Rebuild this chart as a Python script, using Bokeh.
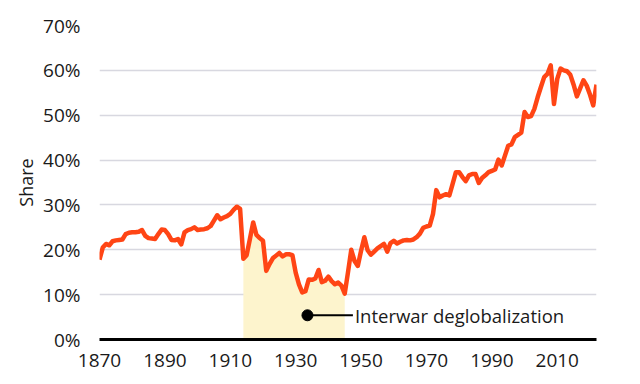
from bokeh.plotting import figure
from bokeh.models import Range1d, FixedTicker
from bokeh.embed import file_html
from bokeh.resources import INLINE
from bokeh.core.properties import value

# ---- data (percent share, annual, starting 1870) ----
share = [
    17.8, 20.5, 21.3, 21.0, 21.9, 22.1, 22.2, 22.3, 23.5, 23.8,   # 1870s
    23.9, 23.9, 24.0, 24.4, 23.1, 22.6, 22.5, 22.4, 23.5, 24.5,   # 1880s
    24.4, 23.5, 22.2, 22.1, 22.4, 21.2, 23.9, 24.4, 24.6, 25.0,   # 1890s
    24.4, 24.5, 24.6, 24.8, 25.3, 26.5, 27.7, 26.8, 27.2, 27.5,   # 1900s
    28.0, 28.9, 29.6, 29.1, 18.0, 18.8, 22.4, 26.1, 23.3, 22.6,   # 1910s
    22.0, 15.3, 16.8, 18.1, 18.7, 19.3, 18.5, 19.0, 19.0, 18.8,   # 1920s
    14.9, 12.3, 10.5, 10.8, 13.4, 13.3, 13.6, 15.5, 12.8, 13.1,   # 1930s
    14.0, 13.0, 12.3, 12.7, 12.0, 10.2, 15.0, 20.0, 17.5, 16.4,   # 1940s
    19.8, 22.8, 19.9, 18.9, 19.6, 20.3, 20.8, 21.3, 19.6, 21.5,   # 1950s
    22.0, 21.4, 21.8, 22.1, 22.2, 22.1, 22.3, 22.8, 23.6, 24.9,   # 1960s
    25.2, 25.4, 28.0, 33.3, 31.7, 32.1, 32.4, 32.1, 34.7, 37.3,   # 1970s
    37.3, 36.2, 35.3, 36.6, 36.9, 36.9, 34.9, 36.0, 36.6, 37.3,   # 1980s
    37.6, 37.9, 40.1, 38.8, 41.0, 43.2, 43.5, 45.1, 45.6, 46.1,   # 1990s
    50.7, 49.6, 49.8, 51.4, 54.0, 56.3, 58.5, 59.2, 61.1, 52.5,   # 2000s
    58.1, 60.4, 60.0, 59.8, 59.0, 56.8, 54.2, 56.0, 57.8, 56.6,   # 2010s
    54.6, 52.2, 56.8,                                             # 2020s
]
first_year = 1870
years = list(range(first_year, first_year + len(share)))

shade_start = 1914
shade_end = 1945

annot_x = 1933.6
annot_y = 5.4
annot_line_end = 1947.5
annot_text = "Interwar deglobalization"

y_ticks = [0, 10, 20, 30, 40, 50, 60, 70]
y_labels = [f"{t}%" for t in y_ticks]
x_ticks = [1870, 1890, 1910, 1930, 1950, 1970, 1990, 2010]
y_axis_title = "Share"

FONT = "Open Sans"
TXT = "#1a1a1a"

p = figure(width=632, height=376, output_backend="svg", toolbar_location=None,
           x_range=Range1d(years[0], years[-1]), y_range=Range1d(0, 70),
           min_border_left=99, min_border_right=36, min_border_top=25,
           min_border_bottom=37)
p.outline_line_color = None
p.background_fill_color = "white"
p.border_fill_color = "white"

# grid
p.xgrid.visible = False
p.ygrid.ticker = FixedTicker(ticks=y_ticks)
p.ygrid.grid_line_color = "#d8d8e0"
p.ygrid.grid_line_width = 1.5

# y axis
p.yaxis.ticker = FixedTicker(ticks=y_ticks)
p.yaxis.major_label_overrides = {t: l for t, l in zip(y_ticks, y_labels)}
p.yaxis.axis_line_color = None
p.yaxis.major_tick_line_color = None
p.yaxis.minor_tick_line_color = None
p.yaxis.major_label_standoff = 13
p.yaxis.major_label_text_font = FONT
p.yaxis.major_label_text_font_size = "19px"
p.yaxis.major_label_text_color = TXT
p.yaxis.axis_label = y_axis_title
p.yaxis.axis_label_text_font = FONT
p.yaxis.axis_label_text_font_size = "18px"
p.yaxis.axis_label_text_font_style = "normal"
p.yaxis.axis_label_text_color = TXT
p.yaxis.axis_label_standoff = 2

# x axis
p.xaxis.ticker = FixedTicker(ticks=x_ticks)
p.xaxis.axis_line_color = "black"
p.xaxis.axis_line_width = 3
p.xaxis.major_tick_line_color = None
p.xaxis.minor_tick_line_color = None
p.xaxis.major_label_standoff = 8
p.xaxis.major_label_text_font = FONT
p.xaxis.major_label_text_font_size = "19px"
p.xaxis.major_label_text_color = TXT

# shaded interwar area under the line
sx = [y for y in years if shade_start <= y <= shade_end]
sy = [v for y, v in zip(years, share) if shade_start <= y <= shade_end]
p.varea(x=sx, y1=[0] * len(sx), y2=sy, fill_color="#fdf4cd", fill_alpha=1.0)

# main line
p.line(years, share, line_color="#ff4515", line_width=4.5, line_join="round")

# annotation
p.segment(x0=[annot_x], y0=[annot_y], x1=[annot_line_end], y1=[annot_y],
          line_color="black", line_width=2)
p.scatter([annot_x], [annot_y], size=11, color="black")
p.text(x=[annot_line_end], y=[annot_y], text=[annot_text],
       text_font=value(FONT), text_font_size="18.5px", text_color=TXT,
       text_baseline="middle", text_align="left", x_offset=2)

open("out.html", "w").write(file_html(p, INLINE))
